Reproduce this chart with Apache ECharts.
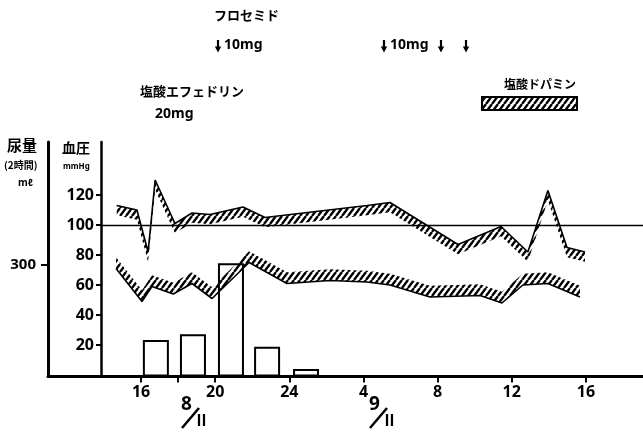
<!DOCTYPE html>
<html><head><meta charset="utf-8">
<script src="https://cdn.jsdelivr.net/npm/echarts@6/dist/echarts.min.js"></script>
<style>html,body{margin:0;padding:0;background:#fff}#c{width:643px;height:439px}</style>
</head><body><div id="c"></div>
<script>
// ---- data (time = hours from 8/II 0:00) ----
const hourTicks = [16, 20, 24, 28, 32, 36, 40];
const extraTicks = [18];
const bpTicks = [20, 40, 60, 80, 100, 120];
const urineTicks = [300];
const sysTimes  = [14.69, 15.78, 16.38, 16.76, 17.83, 18.75, 19.72, 21.5, 22.69, 28.19, 29.43, 33.1, 35.42, 36.87, 37.95, 38.98, 39.95];
const sysValues = [113, 110, 82, 130, 101, 108, 107, 112, 105, 113, 115, 87, 99, 82, 123, 85, 82];
const diaTimes  = [14.65, 16.05, 16.59, 17.74, 18.75, 19.83, 21.83, 23.87, 26.19, 28.19, 29.43, 31.59, 34.29, 35.47, 36.6, 37.95, 39.68];
const diaValues = [71, 49, 59, 54, 61, 51, 75, 61, 63, 62, 60, 52, 53, 48, 60, 61, 52];
const urineTimes  = [16.8, 18.8, 20.85, 22.8, 24.9];
const urineValues = [98, 114, 305, 80, 20];
const refLine = 100;

const NUM = "'Noto Sans','Liberation Sans',sans-serif";
const JP = "'Noto Sans CJK JP',sans-serif";
const XMIN = 10.98, XMAX = 43.08, BP_AXIS_T = 13.84, SYS_BAND = 6.5, DIA_BAND = 7.5;

function hatch(w, h, lw) {
  const c = document.createElement('canvas'); c.width = w; c.height = h;
  const g = c.getContext('2d'); g.strokeStyle = '#000'; g.lineWidth = lw;
  for (const dx of [-w, 0, w]) { g.beginPath(); g.moveTo(dx, h); g.lineTo(dx + w, 0); g.stroke(); }
  return c;
}
const pattern = { image: hatch(6, 8, 2.4), repeat: 'repeat' };

const pairs = (ts, vs) => ts.map((t, i) => [t, vs[i]]);

function bandSeries(ts, vs, offset) {
  const data = [];
  for (let i = 0; i < ts.length - 1; i++) data.push([ts[i], vs[i], ts[i + 1], vs[i + 1]]);
  return {
    type: 'custom', coordinateSystem: 'cartesian2d', yAxisIndex: 1, silent: true, z: 2,
    encode: { x: [0, 2], y: [1, 3] },
    renderItem: (params, api) => {
      const t0 = api.value(0), v0 = api.value(1), t1 = api.value(2), v1 = api.value(3);
      const pts = [api.coord([t0, v0]), api.coord([t1, v1]),
                   api.coord([t1, v1 + offset]), api.coord([t0, v0 + offset])];
      return { type: 'polygon', shape: { points: pts }, style: { fill: pattern } };
    },
    data
  };
}

const lbl = (size) => ({ color: '#000', fontFamily: NUM, fontWeight: 'bold', fontSize: size });
const txt = (x, y, text, font) => ({ type: 'text', left: x, top: y, style: { text: text, font: font, fill: '#000' } });
// bold down arrow (shaft + head)
const arrow = (cx, y) => ({ type: 'group', children: [
  { type: 'line', shape: { x1: cx, y1: y, x2: cx, y2: y + 8 }, style: { stroke: '#000', lineWidth: 2.2 } },
  { type: 'polygon', shape: { points: [[cx - 3.2, y + 6.5], [cx + 3.2, y + 6.5], [cx, y + 12.5]] }, style: { fill: '#000' } }
] });

const chart = echarts.init(document.getElementById('c'));
chart.setOption({
  animation: false,
  grid: { left: 48, right: 0, top: 142, bottom: 62.5 },
  xAxis: {
    type: 'value', min: XMIN, max: XMAX,
    axisLine: { onZero: false, lineStyle: { color: '#000', width: 3 } },
    axisTick: { customValues: hourTicks.concat(extraTicks), length: 6, lineStyle: { color: '#000', width: 2 } },
    axisLabel: Object.assign({ customValues: hourTicks, margin: 8,
      formatter: v => String(v > 24 ? v - 24 : v) }, lbl(16)),
    splitLine: { show: false }
  },
  yAxis: [
    { type: 'value', min: 0, max: 631, position: 'left',
      axisLine: { show: true, onZero: false, lineStyle: { color: '#000', width: 3 } },
      axisTick: { customValues: urineTicks, length: 7, lineStyle: { color: '#000', width: 2 } },
      axisLabel: Object.assign({ customValues: urineTicks, margin: 12 }, lbl(15)),
      splitLine: { show: false } },
    { type: 'value', min: -1, max: 155.33, position: 'left', offset: -53,
      axisLine: { show: true, onZero: false, lineStyle: { color: '#000', width: 2.5 } },
      axisTick: { customValues: bpTicks, length: 5, lineStyle: { color: '#000', width: 2 } },
      axisLabel: Object.assign({ customValues: bpTicks, margin: 7 }, lbl(16)),
      splitLine: { show: false } }
  ],
  series: [
    { type: 'bar', yAxisIndex: 0, barWidth: 26, data: pairs(urineTimes, urineValues),
      itemStyle: { color: 'rgba(0,0,0,0)', borderColor: '#000', borderWidth: 2 }, z: 1 },
    bandSeries(sysTimes, sysValues, -SYS_BAND),
    bandSeries(diaTimes, diaValues, DIA_BAND),
    { type: 'line', yAxisIndex: 1, data: pairs(sysTimes, sysValues), showSymbol: false, symbol: 'none',
      lineStyle: { color: '#000', width: 1.6 }, z: 3,
      markLine: { symbol: 'none', silent: true, label: { show: false },
        lineStyle: { color: '#000', width: 1.3, type: 'solid' },
        data: [[{ coord: [BP_AXIS_T, refLine] }, { coord: [XMAX, refLine] }]] } },
    { type: 'line', yAxisIndex: 1, data: pairs(diaTimes, diaValues), showSymbol: false, symbol: 'none',
      lineStyle: { color: '#000', width: 1.6 }, z: 3 }
  ],
  graphic: [
    txt(214, 9, 'フロセミド', 'bold 13px ' + JP),
    arrow(218, 40), txt(224, 38, '10mg', 'bold 14px ' + NUM),
    arrow(384, 40), txt(390, 38, '10mg', 'bold 14px ' + NUM),
    arrow(441, 40), arrow(466, 40),
    txt(140, 85, '塩酸エフェドリン', 'bold 13px ' + JP),
    txt(155, 107, '20mg', 'bold 14px ' + NUM),
    txt(504, 78, '塩酸ドパミン', 'bold 12px ' + JP),
    { type: 'rect', shape: { x: 482, y: 97, width: 95, height: 13 },
      style: { fill: pattern, stroke: '#000', lineWidth: 2 } },
    txt(7, 138, '尿量', 'bold 15px ' + JP),
    txt(4, 160, '(2時間)', 'bold 10px ' + JP),
    txt(18, 178, 'mℓ', 'bold 10px ' + NUM),
    txt(62, 141, '血圧', 'bold 14px ' + JP),
    txt(63, 163, 'mmHg', 'bold 8px ' + NUM),
    txt(181, 395, '8', 'bold 19px ' + NUM),
    { type: 'line', shape: { x1: 182, y1: 428, x2: 199, y2: 408 }, style: { stroke: '#000', lineWidth: 2.5 } },
    txt(194, 413, 'Ⅱ', 'bold 15px ' + JP),
    txt(369, 395, '9', 'bold 19px ' + NUM),
    { type: 'line', shape: { x1: 370, y1: 428, x2: 387, y2: 408 }, style: { stroke: '#000', lineWidth: 2.5 } },
    txt(382, 413, 'Ⅱ', 'bold 15px ' + JP)
  ]
});
</script></body></html>
